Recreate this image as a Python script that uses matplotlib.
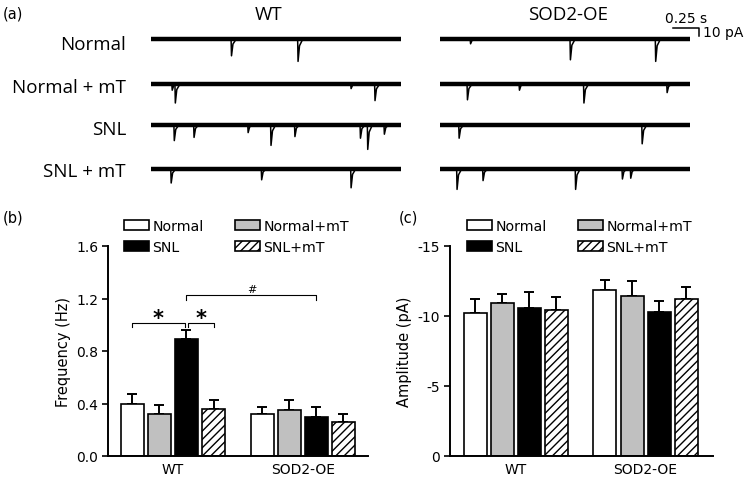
import matplotlib
matplotlib.use("Agg")
import matplotlib.pyplot as plt
from matplotlib.patches import Patch

plt.rcParams['font.family'] = 'DejaVu Sans'
plt.rcParams['axes.unicode_minus'] = False
plt.rcParams['hatch.linewidth'] = 1.0

W, H = 752, 485

# ---- data ----
conditions = ['Normal', 'Normal+mT', 'SNL', 'SNL+mT']
groups = ['WT', 'SOD2-OE']

freq_wt = [0.40, 0.32, 0.89, 0.36]
freq_wt_err = [0.07, 0.07, 0.07, 0.07]
freq_sod = [0.32, 0.35, 0.30, 0.26]
freq_sod_err = [0.05, 0.08, 0.07, 0.06]

amp_wt = [-10.2, -10.9, -10.6, -10.4]
amp_wt_err = [1.0, 0.7, 1.15, 0.95]
amp_sod = [-11.85, -11.4, -10.3, -11.2]
amp_sod_err = [0.75, 1.1, 0.8, 0.85]

# example traces: (time s, event amplitude pA) per row
row_labels = ['Normal', 'Normal + mT', 'SNL', 'SNL + mT']
wt_events = [
    [(0.77, 21), (1.41, 28)],
    [(0.20, 8), (0.23, 24), (1.92, 6), (2.15, 21)],
    [(0.22, 20), (0.41, 16), (0.93, 10), (1.15, 26), (1.38, 15), (2.01, 17), (2.08, 31), (2.24, 12)],
    [(0.19, 18), (1.06, 14), (1.92, 24)],
]
sod_events = [
    [(0.29, 6), (1.25, 26), (2.07, 28)],
    [(0.26, 20), (0.76, 8), (1.38, 24), (2.18, 11)],
    [(0.18, 17), (1.94, 24)],
    [(0.16, 26), (0.41, 15), (1.30, 26), (1.75, 13), (1.83, 12)],
]
trace_len = 2.4  # s


def rect(x0, y0, x1, y1):
    return [x0 / W, 1 - y1 / H, (x1 - x0) / W, (y1 - y0) / H]


def ftext(x, y, s, **kw):
    fig.text(x / W, 1 - y / H, s, **kw)


fig = plt.figure(figsize=(W / 100, H / 100), dpi=100)

# ---- panel (a): traces ----
row_offsets = [0, -56, -107, -162]  # pA
for events, x0, title, tx in [(wt_events, 151, 'WT', 269), (sod_events, 440, 'SOD2-OE', 568)]:
    ax = fig.add_axes(rect(x0, 20, x0 + 249.6, 200))
    ax.set_xlim(0, trace_len)
    ax.set_ylim(-200, 25)
    ax.axis('off')
    for off, ev in zip(row_offsets, events):
        ax.plot([0, trace_len], [off, off], color='black', lw=3.2, solid_capstyle='butt')
        for t, a in ev:
            ax.plot([t, t + 0.004, t + 0.018, t + 0.05], [off, off - a, off - 0.3 * a, off],
                    color='black', lw=1.1)
    ftext(tx, 20, title, ha='center', va='baseline', fontsize=13.5, family='Open Sans')
    if title == 'SOD2-OE':
        # scale bar 0.25 s / 10 pA
        ax.plot([2.24, 2.49, 2.49], [13.75, 13.75, 3.75], color='black', lw=1.1, clip_on=False)
        ax.text(2.37, 17, '0.25 s', ha='center', va='bottom', fontsize=10)
        ax.text(2.53, 8.75, '10 pA', ha='left', va='center', fontsize=10)

for lab, yb in zip(row_labels, [50, 93, 135, 177]):
    ftext(126, yb, lab, ha='right', va='baseline', fontsize=13.5, family='Open Sans')
ftext(3, 14, '(a)', ha='left', va='center', fontsize=10.5)

# ---- bar panels ----
bar_w = 0.85
x_wt = [0, 1, 2, 3]
x_sod = [4.79, 5.79, 6.79, 7.79]
colors = ['white', '#c0c0c0', 'black', 'white']
hatches = [None, None, None, '////']
leg_kw = dict(ncol=2, loc='upper left', frameon=False, fontsize=10.2, borderpad=0,
              borderaxespad=0, handlelength=1.76, handleheight=0.63, handletextpad=0.25,
              columnspacing=2.2, labelspacing=0.5)


def bar_panel(ax, wt, wt_err, sod, sod_err, up_is_neg):
    for xs, vals, errs in [(x_wt, wt, wt_err), (x_sod, sod, sod_err)]:
        for x, v, e, c, h in zip(xs, vals, errs, colors, hatches):
            if up_is_neg:
                yerr = [[e], [0]]
            else:
                yerr = [[0], [e]]
            ax.errorbar(x, v, yerr=yerr, color='black', elinewidth=1.4, capsize=3.5,
                        capthick=1.4, zorder=1)
            ax.bar(x, v, width=bar_w, color=c, edgecolor='black', linewidth=1.2,
                   hatch=h, zorder=2)
    for s in ['top', 'right']:
        ax.spines[s].set_visible(False)
    for s in ['left', 'bottom']:
        ax.spines[s].set_linewidth(1.4)
    ax.set_xticks([1.5, 6.29])
    ax.set_xticklabels(groups)
    ax.tick_params(axis='x', length=0, pad=4, labelsize=10)
    ax.tick_params(axis='y', length=4, width=1.2, pad=3, labelsize=10)
    handles = [Patch(facecolor=colors[i], edgecolor='black', hatch=hatches[i], lw=1.2)
               for i in [0, 2, 1, 3]]
    labels = [conditions[i] for i in [0, 2, 1, 3]]
    return handles, labels


# (b) frequency
axb = fig.add_axes(rect(108, 247, 368, 457))
hb, lb = bar_panel(axb, freq_wt, freq_wt_err, freq_sod, freq_sod_err, False)
axb.set_xlim(-0.896, 8.70)
axb.set_ylim(0, 1.6)
axb.set_yticks([0, 0.4, 0.8, 1.2, 1.6])
axb.set_yticklabels(['0.0', '0.4', '0.8', '1.2', '1.6'])
axb.set_ylabel('Frequency (Hz)', fontsize=10.5, labelpad=4)
axb.legend(hb, lb, bbox_to_anchor=(124 / W, 1 - 220 / H), bbox_transform=fig.transFigure,
           **leg_kw)

# significance brackets
for x1, x2, y, drop, mark, ty, fs, bold in [(0, 1.93, 1.01, 0.03, '*', 0.975, 15, True),
                                           (2.07, 3, 1.01, 0.03, '*', 0.975, 15, True),
                                           (2, 6.79, 1.23, 0.04, '#', 1.235, 8, False)]:
    axb.plot([x1, x1, x2, x2], [y - drop, y, y, y - drop], color='black', lw=0.8)
    axb.text((x1 + x2) / 2, ty, mark, ha='center', va='bottom', fontsize=fs,
             fontweight='bold' if bold else 'normal')

ftext(3, 218, '(b)', ha='left', va='center', fontsize=10.5)

# (c) amplitude
axc = fig.add_axes(rect(450, 247, 713, 457))
hc, lc = bar_panel(axc, amp_wt, amp_wt_err, amp_sod, amp_sod_err, True)
axc.set_xlim(-0.93, 8.78)
axc.set_ylim(0, -15)
axc.set_yticks([0, -5, -10, -15])
axc.set_ylabel('Amplitude (pA)', fontsize=10.5, labelpad=4)
axc.legend(hc, lc, bbox_to_anchor=(467 / W, 1 - 220 / H), bbox_transform=fig.transFigure,
           **leg_kw)

ftext(399, 218, '(c)', ha='left', va='center', fontsize=10.5)

fig.savefig('out.png', dpi=100)
